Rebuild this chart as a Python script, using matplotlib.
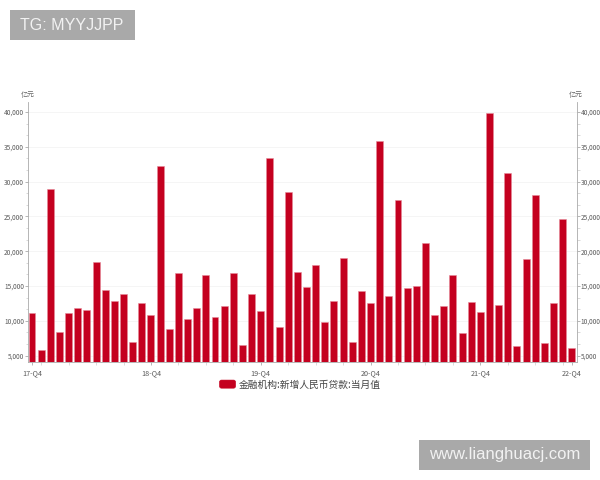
import numpy as np
import matplotlib.pyplot as plt
from matplotlib.legend_handler import HandlerPatch
from matplotlib.patches import FancyBboxPatch, Rectangle

# 亿元
values = [11200, 5850, 29000, 8400, 11200, 11800, 11500, 18400, 14500, 12800,
          13800, 7000, 12500, 10800, 32300, 8900, 16900, 10200, 11800, 16600,
          10600, 12100, 16900, 6600, 13900, 11400, 33400, 9100, 28500, 17000,
          14800, 18100, 9900, 12800, 19000, 6900, 14300, 12600, 35800, 13600,
          27300, 14700, 15000, 21200, 10800, 12200, 16600, 8300, 12700, 11300,
          39800, 12300, 31300, 6400, 18900, 28100, 6800, 12500, 24700, 6150]
quarter_pos = [0, 13, 25, 37, 49, 59]
quarter_labels = ['17-Q4', '18-Q4', '19-Q4', '20-Q4', '21-Q4', '22-Q4']
y_ticks = [5000, 10000, 15000, 20000, 25000, 30000, 35000, 40000]
series_name = '金融机构:新增人民币贷款:当月值'

plt.rcParams['font.family'] = ['Noto Sans CJK SC', 'DejaVu Sans']
RED = '#c4001f'
GREY = '#5a5a5a'

fig = plt.figure(figsize=(6, 4.8), dpi=100)
W, H = 600, 480
left, right, top, bottom = 27.7, 576.7, 102, 362.3
ax = fig.add_axes([left/W, 1-bottom/H, (right-left)/W, (bottom-top)/H])

x = np.arange(len(values))
bars = ax.bar(x, values, width=0.76, color=RED, edgecolor='#e58a9a', linewidth=0.4, zorder=3)
ax.set_xlim(-0.47, len(values)-0.47)
ax.set_ylim(4050, 41450)

ax.set_yticks(y_ticks)
ax.set_yticklabels([f'{v:,}' for v in y_ticks], fontsize=4.7, color=GREY)
ax.set_yticks(np.arange(5000, 41000, 5000/3), minor=True)
ax.tick_params(axis='y', which='major', length=2.5, width=0.5, color='#999999', pad=0.2)
ax.tick_params(axis='y', which='minor', length=1.8, width=0.4, color='#bbbbbb')
ax.grid(axis='y', which='major', color='#f5f5f5', linewidth=0.7, zorder=0)

ax.set_xticks(quarter_pos)
ax.set_xticklabels(quarter_labels, fontsize=5.2, color=GREY)
ax.set_xticks(np.arange(1, len(values), 3), minor=True)
ax.tick_params(axis='x', which='major', length=2.5, width=0.5, color='#999999', pad=2.5)
ax.tick_params(axis='x', which='minor', length=2.5, width=0.5, color='#cccccc')

ax.spines['top'].set_visible(False)
ax.spines['right'].set_visible(False)
for s in ['left', 'bottom']:
    ax.spines[s].set_color('#aaaaaa')
    ax.spines[s].set_linewidth(0.6)

# right axis repeats the left one
ax2 = ax.twinx()
ax2.set_ylim(ax.get_ylim())
ax2.set_yticks(y_ticks)
ax2.set_yticklabels([f'{v:,}' for v in y_ticks], fontsize=4.7, color=GREY)
ax2.set_yticks(np.arange(5000, 41000, 5000/3), minor=True)
ax2.tick_params(axis='y', which='major', length=2.5, width=0.5, color='#999999', pad=0.2)
ax2.tick_params(axis='y', which='minor', length=1.8, width=0.4, color='#bbbbbb')
for s in ['top', 'left', 'bottom']:
    ax2.spines[s].set_visible(False)
ax2.spines['right'].set_color('#aaaaaa')
ax2.spines['right'].set_linewidth(0.6)

fig.text(27.7/W, 1-94.5/H, '亿元', fontsize=5, color='#666666', ha='center', va='center')
fig.text(576.2/W, 1-94.5/H, '亿元', fontsize=5, color='#666666', ha='center', va='center')


def round_handle(legend, orig_handle, xdescent, ydescent, width, height, fontsize):
    return FancyBboxPatch((-xdescent + 1.5, -ydescent + 1.5), width - 3, height - 3, boxstyle='round,pad=1.5')


# legend drawn by the library, placed under the plot
leg = ax.legend([bars[0]], [series_name], loc='center', bbox_to_anchor=(300/W, 1-384.5/H),
                bbox_transform=fig.transFigure, frameon=False, fontsize=7.05,
                handlelength=1.65, handleheight=0.9, handletextpad=0.3, borderpad=0,
                handler_map={Rectangle: HandlerPatch(patch_func=round_handle)})
leg.get_texts()[0].set_color('#444444')
for h in leg.legend_handles:
    h.set_facecolor(RED)
    h.set_edgecolor(RED)

# watermarks
fig.text(72/W, 1-25/H, 'TG: MYYJJPP', fontsize=11.5, color='#f2f2f2', family='Liberation Sans',
         ha='center', va='center', zorder=5)
fig.text(504.5/W, 1-455/H, 'www.lianghuacj.com', fontsize=12, color='#f2f2f2', family='Liberation Sans',
         ha='center', va='center', zorder=5)
fig.patches.append(plt.Rectangle((10/W, 1-40/H), 125/W, 30/H, transform=fig.transFigure, color='#a9a9a9', lw=0, zorder=4))
fig.patches.append(plt.Rectangle((419/W, 1-470/H), 171/W, 30/H, transform=fig.transFigure, color='#a9a9a9', lw=0, zorder=4))

fig.savefig('out.png', dpi=100)
